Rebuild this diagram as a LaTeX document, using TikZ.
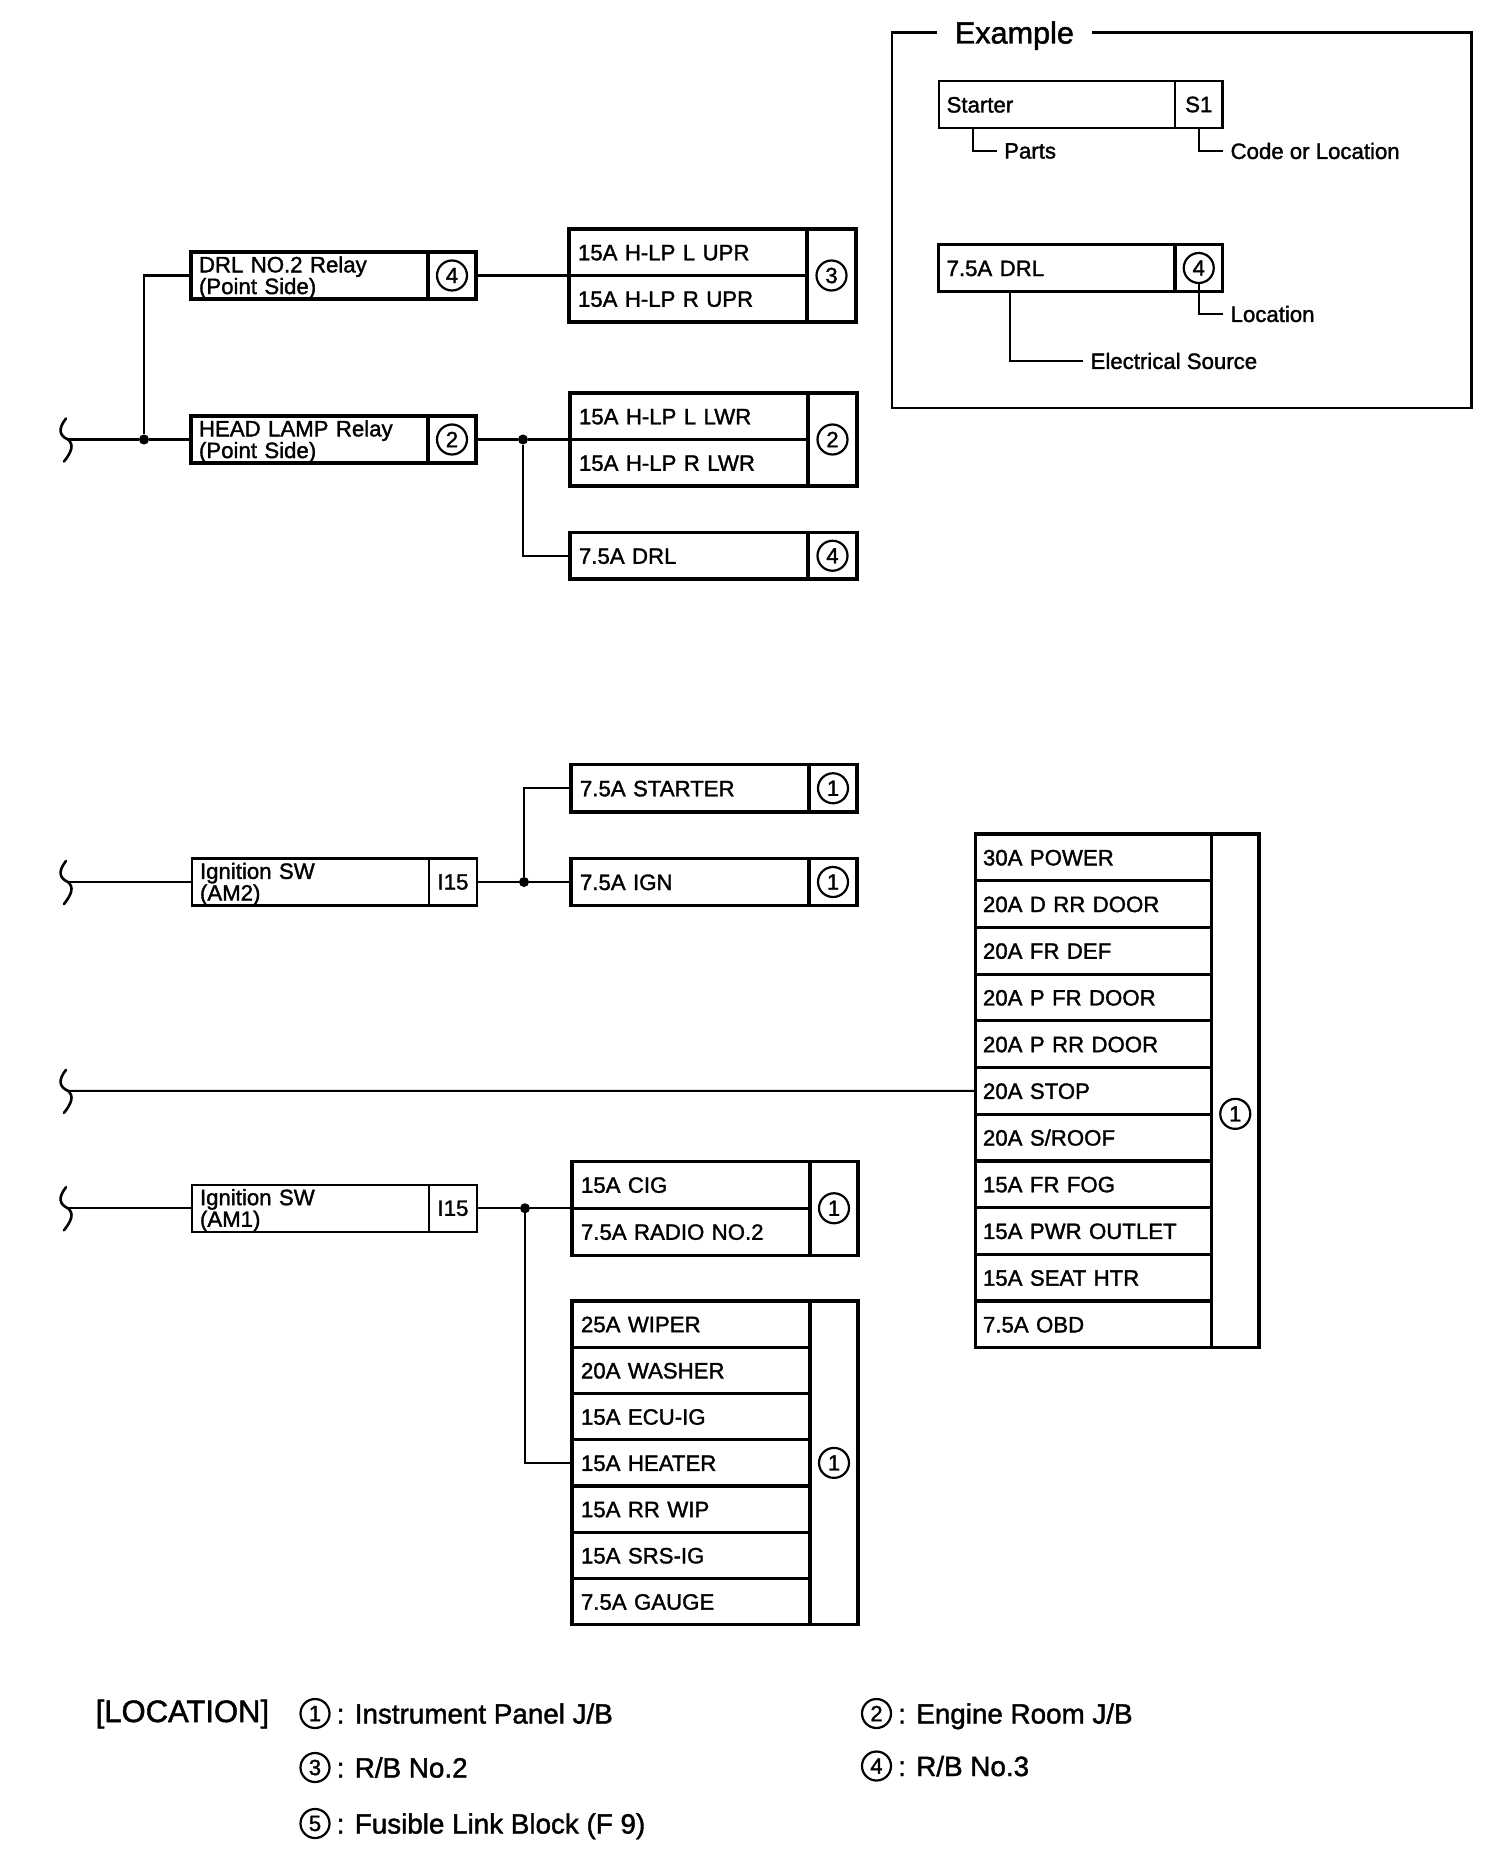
\documentclass[tikz,border=0pt]{standalone}
\usepackage{fontspec}
\setmainfont[FakeBold=1.5]{Liberation Sans}
\usetikzlibrary{positioning}

\newcommand{\fusefont}{\fontsize{22.2}{20.6}\selectfont}

\tikzset{
  wire/.style={black, line width=2.2pt},
  fuserow/.style={draw=black, line width=3.2pt, outer sep=0pt, rectangle, anchor=north west,
    minimum height=46.5pt, text width=#1, inner xsep=9pt, inner ysep=0pt,
    text height=16pt, text depth=0pt, align=left, font=\fusefont},
  fuserow/.default=220pt,
  relaybox/.style={draw=black, line width=3.2pt, outer sep=0pt, rectangle, anchor=north west,
    minimum height=47pt, text width=221pt, inner xsep=8pt, inner ysep=0pt,
    text height=20pt, align=left, font=\fusefont},
  locbox/.style={draw=black, line width=3.2pt, outer sep=0pt, rectangle, anchor=north west,
    minimum width=49pt, minimum height=46.5pt, inner sep=0pt, font=\fusefont},
  circnum/.style={draw=black, line width=2.2pt, circle, minimum size=30pt,
    inner sep=0pt, font=\fontsize{22}{22}\selectfont},
  dot/.style={fill=black, circle, minimum size=10pt, inner sep=0pt},
  note/.style={anchor=west, inner xsep=7pt, inner ysep=0pt, font=\fusefont},
  legendtxt/.style={inner sep=0pt, text height=20pt, text depth=0pt, font=\fontsize{27.8}{30}\selectfont},
  breakmark/.pic={\draw[line width=2.6pt, line cap=round] (-2,-21) .. controls (-10,-11) and (-9,-4) .. (0,0) .. controls (6,5) and (4,12) .. (-4,22);}
}

\begin{document}
\begin{tikzpicture}[x=1pt,y=-1pt]
\useasboundingbox (0,0) rectangle (1504,1854);

% Example
\node[inner xsep=18pt, inner ysep=0pt, text height=22pt, text depth=0pt, font=\fontsize{30.6}{32}\selectfont] (extitle) at (1014.4,32.5) {Example};
\draw[wire] (extitle.west) -- (892,32.5) -- (892,408) -- (1471.5,408) -- (1471.5,32.5) -- (extitle.east);

\node[fuserow=220.4pt, line width=2.2pt, inner xsep=8pt, minimum height=47pt] (exstart) at (938.6,81) {Starter};
\node[locbox, line width=2.2pt, minimum width=47.5pt, minimum height=47pt] (exs1) at (1175,81) {S1};
\node[note] (lblparts) at (997,151) {Parts};
\node[note] (lblcode) at (1223.4,151) {Code or Location};
\draw[wire] ([xshift=34pt]exstart.south west) |- (lblparts.west);
\draw[wire] (exs1.south) |- (lblcode.west);

\node[fuserow=220.4pt, inner xsep=8pt, minimum height=47pt] (exdrl) at (938.6,244.5) {7.5A DRL};
\node[locbox, minimum width=47.5pt, minimum height=47pt] (exloc) at (1175,244.5) {};
\node[circnum] (exc) at (exloc) {4};
\node[note] (lblloc) at (1223.4,314) {Location};
\node[note] (lblsrc) at (1083.4,361) {Electrical Source};
\draw[wire] (exc.south) |- (lblloc.west);
\draw[wire] ([xshift=71pt]exdrl.south west) |- (lblsrc.west);

% Relays
\node[relaybox] (drlrel) at (191,252) {DRL NO.2 Relay\\(Point Side)};
\node[locbox, minimum width=48pt, minimum height=47pt] (drlloc) at (428,252) {};
\node[circnum] (c1) at (drlloc) {4};
\node[relaybox] (hdrel) at (191,416) {HEAD LAMP Relay\\(Point Side)};
\node[locbox, minimum width=48pt, minimum height=47pt] (hdloc) at (428,416) {};
\node[circnum] (c2) at (hdloc) {2};

% H-LP
\node[fuserow] (up0) at (569,229) {15A H-LP L UPR};
\node[fuserow] (up1) at (569,275.5) {15A H-LP R UPR};
\node[locbox, minimum height=93pt] (uploc) at (807,229) {};
\node[circnum] (c3) at (uploc) {3};
\node[fuserow] (lw0) at (570,393) {15A H-LP L LWR};
\node[fuserow] (lw1) at (570,439.5) {15A H-LP R LWR};
\node[locbox, minimum height=93pt] (lwloc) at (808,393) {};
\node[circnum] (c4) at (lwloc) {2};
\node[fuserow] (drl) at (570,532.5) {7.5A DRL};
\node[locbox] (drlfloc) at (808,532.5) {};
\node[circnum] (c5) at (drlfloc) {4};

% Wires top
\coordinate (brk1) at (68,439.5);
\node[dot] (j1) at (144,439.5) {};
\node[dot] (j2) at (523,439.5) {};
\pic at (brk1) {breakmark};
\draw[wire] (brk1) -- (j1) -- (hdrel.west);
\draw[wire] (j1) |- (drlrel.west);
\draw[wire] (drlloc.east) -- (up0.south west);
\draw[wire] (hdloc.east) -- (j2) -- (lw0.south west);
\draw[wire] (j2) |- (drl.west);

% Ignition AM2
\node[relaybox, line width=2.2pt] (am2) at (192,858.5) {Ignition SW\\(AM2)};
\node[locbox, line width=2.2pt, minimum width=48pt, minimum height=47pt] (am2loc) at (429,858.5) {I15};
\node[fuserow, minimum height=47.5pt] (strt) at (571,764.5) {7.5A STARTER};
\node[locbox, minimum width=48pt, minimum height=47.5pt] (strtloc) at (809,764.5) {};
\node[circnum] (c6) at (strtloc) {1};
\node[fuserow, minimum height=47pt] (ign) at (571,858.5) {7.5A IGN};
\node[locbox, minimum width=48pt, minimum height=47pt] (ignloc) at (809,858.5) {};
\node[circnum] (c7) at (ignloc) {1};
\coordinate (brk2) at (68,882);
\node[dot] (j3) at (524,882) {};
\pic at (brk2) {breakmark};
\draw[wire] (brk2) -- (am2.west);
\draw[wire] (am2loc.east) -- (j3) -- (ign.west);
\draw[wire] (j3) |- (strt.west);

% Ignition AM1
\node[relaybox, line width=2.2pt] (am1) at (192,1184.75) {Ignition SW\\(AM1)};
\node[locbox, line width=2.2pt, minimum width=48pt, minimum height=47pt] (am1loc) at (429,1184.75) {I15};
\node[fuserow, minimum height=47pt] (cig0) at (572,1161.25) {15A CIG};
\node[fuserow, minimum height=47pt] (cig1) at (572,1208.25) {7.5A RADIO NO.2};
\node[locbox, minimum width=48pt, minimum height=94pt] (cigloc) at (810,1161.25) {};
\node[circnum] (c8) at (cigloc) {1};

\foreach \txt [count=\i from 0] in {25A WIPER, 20A WASHER, 15A ECU-IG, 15A HEATER, 15A RR WIP, 15A SRS-IG, 7.5A GAUGE} {
  \node[fuserow, minimum height=46.25pt] (wip\i) at (572,{1301+46.25*\i}) {\txt};
}
\node[locbox, minimum width=48pt, minimum height=323.75pt] (wiploc) at (810,1301) {};
\node[circnum] (c9) at (wiploc) {1};

\coordinate (brk4) at (68,1208.25);
\node[dot] (j4) at (525,1208.25) {};
\pic at (brk4) {breakmark};
\draw[wire] (brk4) -- (am1.west);
\draw[wire] (am1loc.east) -- (j4) -- (cig0.south west);
\draw[wire] (j4) |- (wip3.west);

% Power block
\foreach \txt [count=\i from 0] in {30A POWER, 20A D RR DOOR, 20A FR DEF, 20A P FR DOOR, 20A P RR DOOR, 20A STOP, 20A S/ROOF, 15A FR FOG, 15A PWR OUTLET, 15A SEAT HTR, 7.5A OBD} {
  \node[fuserow=221pt, inner xsep=7.5pt, minimum height=46.7pt] (pw\i) at (975.5,{834+46.7*\i}) {\txt};
}
\node[locbox, minimum width=47.5pt, minimum height=513.7pt] (pwloc) at (1211.5,834) {};
\node[circnum] (c10) at ([yshift=-23pt]pwloc.center) {1};
\coordinate (brk3) at (68,1090.85);
\pic at (brk3) {breakmark};
\draw[wire] (brk3) -- (pw5.west);

% Location
\node[legendtxt, anchor=west, text height=22pt, font=\fontsize{31}{32}\selectfont] (loctitle) at (95.5,1711) {[LOCATION]};
\node[circnum, minimum size=29pt] (leg1) at (315,1713.5) {1};
\node[circnum, minimum size=29pt] (leg3) at (315,1767.5) {3};
\node[circnum, minimum size=29pt] (leg5) at (315,1823.5) {5};
\node[circnum, minimum size=29pt] (leg2) at (876.5,1713.5) {2};
\node[circnum, minimum size=29pt] (leg4) at (876.5,1766) {4};
\node[legendtxt, right=6pt of leg1] (legt1) {: Instrument Panel J/B};
\node[legendtxt, right=6pt of leg3] (legt3) {: R/B No.2};
\node[legendtxt, right=6pt of leg5] (legt5) {: Fusible Link Block (F 9)};
\node[legendtxt, right=6pt of leg2] (legt2) {: Engine Room J/B};
\node[legendtxt, right=6pt of leg4] (legt4) {: R/B No.3};

\end{tikzpicture}
\end{document}
